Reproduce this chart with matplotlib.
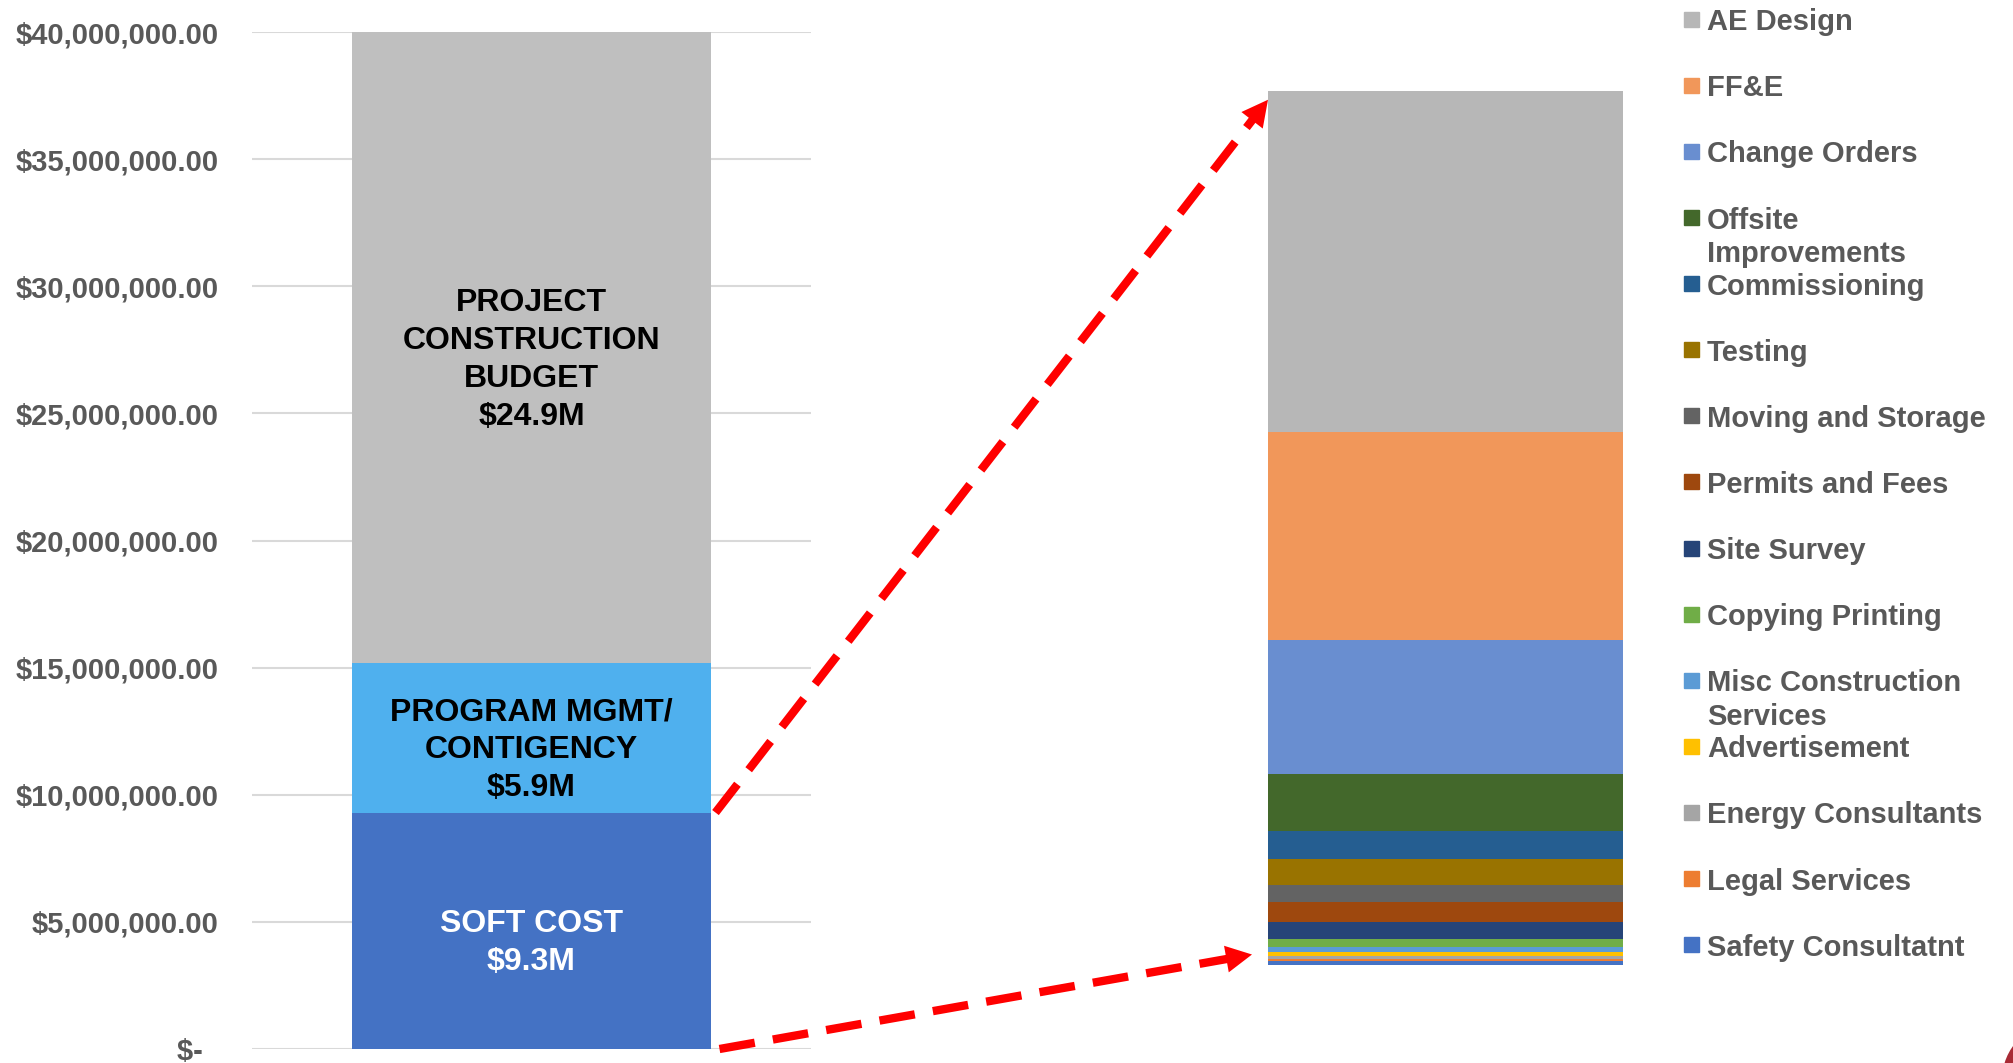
import numpy as np
import matplotlib
matplotlib.use("Agg")
import matplotlib.pyplot as plt
from matplotlib.lines import Line2D
from matplotlib.patches import Polygon, Rectangle, Circle
from matplotlib.transforms import IdentityTransform

plt.rcParams['font.family'] = ['Liberation Sans', 'DejaVu Sans']

# left stacked bar: budget split
budget_parts = ['SOFT COST', 'PROGRAM MGMT/\nCONTIGENCY', 'PROJECT\nCONSTRUCTION\nBUDGET']
budget_values = [9.3e6, 5.9e6, 24.9e6]
budget_labels = ['$9.3M', '$5.9M', '$24.9M']
budget_colors = ['#4472C4', '#4FB0EE', '#BFBFBF']
budget_text_colors = ['white', 'black', 'black']
y_ticks = [0, 5e6, 10e6, 15e6, 20e6, 25e6, 30e6, 35e6, 40e6]

# right stacked bar: soft cost breakdown (bottom to top)
soft_items = ['Safety Consultatnt', 'Legal Services', 'Energy Consultants', 'Advertisement',
              'Misc Construction\nServices', 'Copying Printing', 'Site Survey', 'Permits and Fees',
              'Moving and Storage', 'Testing', 'Commissioning', 'Offsite\nImprovements',
              'Change Orders', 'FF&E', 'AE Design']
soft_values = [43e3, 21e3, 35e3, 43e3, 50e3, 85e3, 184e3, 213e3,
               174e3, 277e3, 298e3, 607e3, 1427e3, 2214e3, 3630e3]
soft_colors = ['#4472C4', '#ED7D31', '#A5A5A5', '#FFC000', '#5B9BD5', '#70AD47', '#264478',
               '#9E480E', '#636363', '#997300', '#255E91', '#43682B', '#698ED0', '#F1975A',
               '#B7B7B7']

W, H = 2013, 1063
fig = plt.figure(figsize=(W / 100, H / 100), dpi=100)

# ---- left chart
ax = fig.add_axes([252 / W, 14 / H, 559 / W, 1017 / H])
bar_w = 0.644
bottom = 0
for val, col, name, lab, tc in zip(budget_values, budget_colors, budget_parts,
                                   budget_labels, budget_text_colors):
    ax.bar(0, val, bottom=bottom, width=bar_w, color=col, zorder=2)
    top = min(bottom + val, 40e6)
    ax.annotate(name + '\n' + lab, (0, (bottom + top) / 2), xytext=(0, -9),
                textcoords='offset points', ha='center', va='center',
                color=tc, fontsize=23, fontweight='bold', linespacing=1.34, zorder=3)
    bottom += val
ax.set_xlim(-0.5, 0.5)
ax.set_ylim(0, 40e6)
ax.set_yticks(y_ticks)
ax.set_yticklabels(['$-  ' if v == 0 else f'${v:,.2f}' for v in y_ticks])
ax.tick_params(axis='y', length=0, pad=24, labelsize=21, labelcolor='#595959')
for lbl in ax.get_yticklabels():
    lbl.set_fontweight('bold')
ax.set_xticks([])
ax.grid(axis='y', color='#D9D9D9', linewidth=1.5, zorder=0)
for s in ax.spines.values():
    s.set_visible(False)

# ---- right chart
total_soft = sum(soft_values)
ax2 = fig.add_axes([1268 / W, 98 / H, 355 / W, 874 / H])
cum = 0
for val, col in zip(soft_values, soft_colors):
    ax2.bar(0, val, bottom=cum, width=1.0, color=col)
    cum += val
ax2.set_xlim(-0.5, 0.5)
ax2.set_ylim(0, total_soft)
ax2.axis('off')

# ---- legend drawn by hand (top item first)
row0, row_step, line_step = 19.3, 66.1, 33.4
for i, (name, col) in enumerate(zip(soft_items[::-1], soft_colors[::-1])):
    yc = row0 + row_step * i
    fig.add_artist(Rectangle((1684 / W, 1 - (yc + 7.5) / H), 15 / W, 15 / H,
                             transform=fig.transFigure, color=col))
    for k, line in enumerate(name.split('\n')):
        fig.text(1707 / W, 1 - (yc + k * line_step) / H, line, ha='left', va='center_baseline',
                 fontsize=21, fontweight='bold', color='#595959')


# ---- red dashed arrows
def dashed_arrow(p0, p1, head_len=26, head_w=27):
    p0, p1 = np.asarray(p0, float), np.asarray(p1, float)
    d = (p1 - p0) / np.hypot(*(p1 - p0))
    n = np.array([-d[1], d[0]])
    end = p1 - d * head_len * 0.9
    inv = fig.transFigure.inverted()
    a, b = inv.transform(p0), inv.transform(end)
    fig.add_artist(Line2D([a[0], b[0]], [a[1], b[1]], transform=fig.transFigure,
                          color='#FF0000', linewidth=6, linestyle=(0, (4.3, 2.2)),
                          dash_capstyle='butt'))
    base = p1 - d * head_len
    tri = inv.transform([p1, base + n * head_w / 2, base - n * head_w / 2])
    fig.add_artist(Polygon(tri, closed=True, transform=fig.transFigure,
                           color='#FF0000', linewidth=0))


fig.canvas.draw()
s_top = ax.transData.transform((bar_w / 2, budget_values[0])) + np.array([4, 0])
s_bot = ax.transData.transform((bar_w / 2, 0)) + np.array([8, 0])
e_top = ax2.transData.transform((-0.5, total_soft * 0.99))
e_bot = ax2.transData.transform((-0.5, total_soft * 0.012)) + np.array([-16, 0])
dashed_arrow(s_top, e_top)
dashed_arrow(s_bot, e_bot)

# slide decoration peeking in the corner
fig.add_artist(Circle((2060, H - 1080), 58, transform=IdentityTransform(),
                      color='#A82A35', linewidth=0))

fig.savefig('out.png', dpi=100)
